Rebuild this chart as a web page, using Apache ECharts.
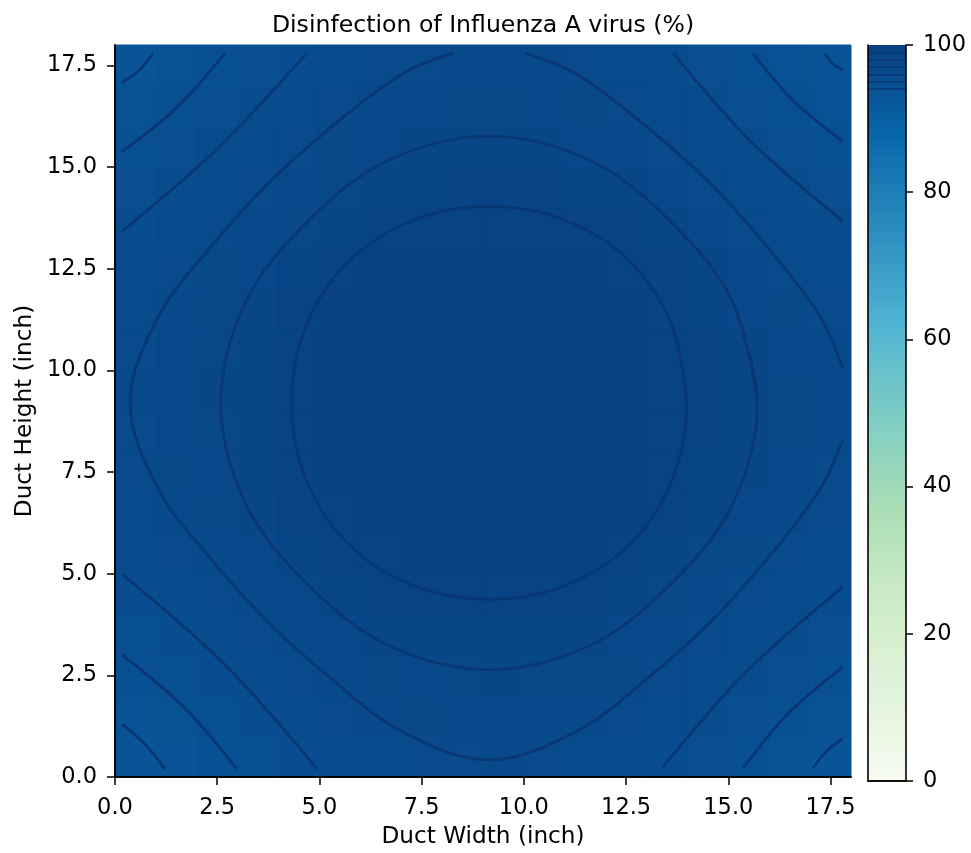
<!DOCTYPE html>
<html><head><meta charset="utf-8">
<script src="https://cdn.jsdelivr.net/npm/echarts@6/dist/echarts.min.js"></script>
<style>html,body{margin:0;padding:0;background:#fff}#chart{width:971px;height:853px}</style>
</head><body><div id="chart"></div>
<script>
// cell centres (inch)
const cellCentersX = [0.5,1.5,2.5,3.5,4.5,5.5,6.5,7.5,8.5,9.5,10.5,11.5,12.5,13.5,14.5,15.5,16.5,17.5];
const cellCentersY = [0.5,1.5,2.5,3.5,4.5,5.5,6.5,7.5,8.5,9.5,10.5,11.5,12.5,13.5,14.5,15.5,16.5,17.5];
// disinfection (%) estimated per cell; row k = cellCentersY[k] (bottom to top)
const disinfection = [
 [93.8,94.3,94.9,95.4,95.9,96.3,96.7,96.9,97.0,97.1,97.0,96.7,96.4,96.0,95.6,95.0,94.5,93.9],
 [94.3,94.8,95.4,95.9,96.4,96.8,97.1,97.3,97.5,97.5,97.4,97.2,96.9,96.5,96.1,95.6,95.0,94.5],
 [94.9,95.4,95.9,96.4,96.8,97.2,97.6,97.8,97.9,98.0,97.9,97.6,97.3,96.9,96.5,96.1,95.5,95.0],
 [95.4,95.9,96.4,96.8,97.2,97.7,98.1,98.4,98.5,98.5,98.4,98.2,97.8,97.4,96.9,96.5,96.1,95.6],
 [95.9,96.4,96.8,97.2,97.8,98.3,98.7,99.0,99.1,99.1,99.0,98.8,98.4,97.9,97.4,96.9,96.5,96.0],
 [96.3,96.8,97.2,97.7,98.3,98.8,99.2,99.4,99.5,99.5,99.4,99.3,99.0,98.4,97.9,97.3,96.9,96.5],
 [96.7,97.1,97.6,98.1,98.7,99.2,99.5,99.6,99.7,99.7,99.7,99.5,99.3,98.9,98.3,97.7,97.2,96.8],
 [96.9,97.3,97.8,98.4,99.0,99.4,99.6,99.7,99.8,99.8,99.8,99.7,99.5,99.1,98.5,98.0,97.5,97.0],
 [97.0,97.5,97.9,98.5,99.1,99.5,99.7,99.8,99.8,99.8,99.8,99.7,99.6,99.2,98.7,98.1,97.6,97.2],
 [97.1,97.5,98.0,98.5,99.1,99.5,99.7,99.8,99.8,99.8,99.8,99.7,99.6,99.2,98.7,98.1,97.6,97.2],
 [97.0,97.4,97.9,98.4,99.0,99.4,99.7,99.8,99.8,99.8,99.8,99.7,99.5,99.2,98.6,98.0,97.5,97.1],
 [96.7,97.2,97.6,98.2,98.8,99.3,99.5,99.7,99.7,99.7,99.7,99.6,99.4,99.0,98.4,97.8,97.3,96.9],
 [96.4,96.9,97.3,97.8,98.4,99.0,99.3,99.5,99.6,99.6,99.5,99.4,99.1,98.6,98.0,97.5,97.0,96.5],
 [96.0,96.5,96.9,97.4,97.9,98.4,98.9,99.1,99.2,99.2,99.2,99.0,98.6,98.1,97.5,97.0,96.6,96.2],
 [95.6,96.1,96.5,96.9,97.4,97.9,98.3,98.5,98.7,98.7,98.6,98.4,98.0,97.5,97.0,96.6,96.2,95.7],
 [95.0,95.6,96.1,96.5,96.9,97.3,97.7,98.0,98.1,98.1,98.0,97.8,97.5,97.0,96.6,96.2,95.7,95.2],
 [94.5,95.0,95.5,96.1,96.5,96.9,97.2,97.5,97.6,97.6,97.5,97.3,97.0,96.6,96.2,95.7,95.2,94.6],
 [93.9,94.5,95.0,95.6,96.0,96.5,96.8,97.0,97.2,97.2,97.1,96.9,96.5,96.2,95.7,95.2,94.6,94.1]
];
// contour levels (%)
const contourLevels = [94,95,96,97,98,99];
// contour polylines ([width, height] in inch)
const contour99 = [[13.98,9.2],[13.64,11.06],[12.61,12.66],[11.01,13.69],[9.15,14.03],[7.29,13.69],[5.69,12.66],[4.66,11.06],[4.32,9.2],[4.66,7.34],[5.69,5.74],[7.29,4.71],[9.15,4.37],[11.01,4.71],[12.61,5.74],[13.64,7.34],[13.98,9.2],[13.64,11.06]];
const contour98 = [[15.71,9.2],[15.11,11.67],[13.6,13.65],[11.62,15.16],[9.15,15.76],[6.68,15.16],[4.7,13.65],[3.19,11.67],[2.59,9.2],[3.19,6.73],[4.7,4.75],[6.68,3.24],[9.15,2.64],[11.62,3.24],[13.6,4.75],[15.11,6.73],[15.71,9.2],[15.11,11.67]];
const contour97TopRight = [[10.03,17.8],[11.31,17.27],[13.05,15.95],[14.55,14.6],[15.9,13.1],[17.22,11.36],[17.8,10.05]];
const contour97Main = [[17.8,8.29],[17.22,7.04],[15.9,5.3],[14.55,3.8],[13.05,2.45],[11.31,1.13],[9.15,0.42],[6.99,1.13],[5.25,2.45],[3.75,3.8],[2.4,5.3],[1.08,7.04],[0.37,9.2],[1.08,11.36],[2.4,13.1],[3.75,14.6],[5.25,15.95],[6.99,17.27],[8.27,17.8]];
const contour96TL = [[0.16,13.41],[2.5,15.45],[4.69,17.8]];
const contour95TL = [[0.16,15.37],[1.5,16.45],[2.69,17.8]];
const contour94TL = [[0.16,17.08],[0.6,17.38],[0.93,17.8]];
const contour96BL = [[0.17,4.99],[2.7,2.75],[4.94,0.2]];
const contour95BL = [[0.17,3.01],[1.68,1.72],[2.98,0.2]];
const contour94BL = [[0.17,1.3],[0.74,0.8],[1.22,0.2]];
const contour96TR = [[13.65,17.8],[15.58,15.6],[17.8,13.67]];
const contour95TR = [[15.6,17.8],[16.6,16.62],[17.8,15.63]];
const contour94TR = [[17.36,17.8],[17.54,17.55],[17.8,17.39]];
const contour96BR = [[13.38,0.22],[15.45,2.6],[17.8,4.67]];
const contour95BR = [[15.36,0.22],[16.48,1.58],[17.8,2.71]];
const contour94BR = [[17.07,0.22],[17.4,0.63],[17.8,0.95]];
// ticks
const xTicks = [0,2.5,5,7.5,10,12.5,15,17.5];
const yTicks = [0,2.5,5,7.5,10,12.5,15,17.5];
const cbarTicks = [0,20,40,60,80,100];
const axisRange = [0,18];
const gnbu = ['#f7fcf0','#e0f3db','#ccebc5','#a8ddb5','#7bccc4','#4eb3d3','#2b8cbe','#0868ac','#084081'];

const FONT = 'DejaVu Sans';
const heatData = [];
cellCentersY.forEach((y, j) => cellCentersX.forEach((x, i) => heatData.push([x, y, disinfection[j][i]])));
const halfW = (cellCentersX[1]-cellCentersX[0])/2, halfH = (cellCentersY[1]-cellCentersY[0])/2;

const contourSets = [contour99, contour98, contour97TopRight, contour97Main,
  contour96TL, contour95TL, contour94TL, contour96BL, contour95BL, contour94BL,
  contour96TR, contour95TR, contour94TR, contour96BR, contour95BR, contour94BR];
const lineColor = '#083773';

const chart = echarts.init(document.getElementById('chart'), null, {renderer:'canvas'});
const tickLabel = {fontFamily: FONT, fontSize: 22.5, color: '#000'};
const frameLine = {show: true, lineStyle: {color: '#000', width: 1.6}};
const option = {
  animation: false,
  backgroundColor: '#fff',
  title: {text: 'Disinfection of Influenza A virus (%)', left: 478, top: 9, textAlign: 'center',
    textStyle: {fontFamily: FONT, fontSize: 23.6, fontWeight: 'normal', color: '#000'}},
  grid: [
    {left: 115, top: 45, width: 736, height: 736},
    {left: 868, top: 45, width: 38, height: 736}
  ],
  visualMap: {type: 'continuous', show: false, min: cbarTicks[0], max: cbarTicks[cbarTicks.length-1],
    dimension: 2, seriesIndex: 0, inRange: {color: gnbu}},
  xAxis: [
    {gridIndex: 0, type: 'value', min: axisRange[0], max: axisRange[1], position: 'bottom', z: 10,
     name: 'Duct Width (inch)', nameLocation: 'middle', nameGap: 48,
     nameTextStyle: {fontFamily: FONT, fontSize: 23.2, color: '#000'},
     axisLine: frameLine, splitLine: {show: false},
     axisTick: {show: true, length: 8, inside: false, customValues: xTicks, lineStyle: {color: '#000', width: 1.5}},
     axisLabel: Object.assign({margin: 20, customValues: xTicks, formatter: v => v.toFixed(1)}, tickLabel)},
    {gridIndex: 0, type: 'value', min: axisRange[0], max: axisRange[1], position: 'top', z: 10,
     axisLine: frameLine, axisTick: {show: false}, axisLabel: {show: false}, splitLine: {show: false}},
    {gridIndex: 1, type: 'category', data: ['cb'], position: 'bottom', z: 10,
     axisLine: frameLine, axisTick: {show: false}, axisLabel: {show: false}, splitLine: {show: false}},
    {gridIndex: 1, type: 'category', data: ['cb'], position: 'top', z: 10,
     axisLine: frameLine, axisTick: {show: false}, axisLabel: {show: false}, splitLine: {show: false}}
  ],
  yAxis: [
    {gridIndex: 0, type: 'value', min: axisRange[0], max: axisRange[1], position: 'left', z: 10,
     name: 'Duct Height (inch)', nameLocation: 'middle', nameGap: 79, nameRotate: 90,
     nameTextStyle: {fontFamily: FONT, fontSize: 23.2, color: '#000'},
     axisLine: frameLine, splitLine: {show: false},
     axisTick: {show: true, length: 8, inside: false, customValues: yTicks, lineStyle: {color: '#000', width: 1.5}},
     axisLabel: Object.assign({margin: 18, customValues: yTicks, formatter: v => v.toFixed(1)}, tickLabel)},
    {gridIndex: 0, type: 'value', min: axisRange[0], max: axisRange[1], position: 'right', z: 10,
     axisLine: frameLine, axisTick: {show: false}, axisLabel: {show: false}, splitLine: {show: false}},
    {gridIndex: 1, type: 'value', min: cbarTicks[0], max: cbarTicks[cbarTicks.length-1], position: 'right', z: 10,
     axisLine: frameLine, splitLine: {show: false},
     axisTick: {show: true, length: 7, inside: false, customValues: cbarTicks, lineStyle: {color: '#000', width: 1.5}},
     axisLabel: Object.assign({margin: 17, customValues: cbarTicks}, tickLabel)},
    {gridIndex: 1, type: 'value', min: cbarTicks[0], max: cbarTicks[cbarTicks.length-1], position: 'left', z: 10,
     axisLine: frameLine, axisTick: {show: false}, axisLabel: {show: false}, splitLine: {show: false}}
  ],
  series: [
    {type: 'custom', xAxisIndex: 0, yAxisIndex: 0, data: heatData, silent: true, z: 1,
     encode: {x: 0, y: 1},
     renderItem: function (params, api) {
       const x = api.value(0), y = api.value(1);
       const p0 = api.coord([x - halfW, y - halfH]);
       const p1 = api.coord([x + halfW, y + halfH]);
       const c = api.visual('color');
       return {type: 'rect', shape: {x: p0[0], y: p1[1], width: p1[0]-p0[0], height: p0[1]-p1[1]},
               style: {fill: c, stroke: c, lineWidth: 1}};
     }}
  ].concat(contourSets.map(d => ({
     type: 'line', xAxisIndex: 0, yAxisIndex: 0, data: d, smooth: 0.35, showSymbol: false, symbol: 'none',
     silent: true, z: 3, lineStyle: {color: lineColor, width: 2.8}
  }))).concat([
    {type: 'bar', xAxisIndex: 2, yAxisIndex: 2, data: [cbarTicks[cbarTicks.length-1]], barWidth: '100%', silent: true, z: 2,
     itemStyle: {color: new echarts.graphic.LinearGradient(0, 1, 0, 0, gnbu.map((c, k) => ({offset: k/(gnbu.length-1), color: c})))},
     markLine: {silent: true, symbol: ['none','none'], label: {show: false}, animation: false,
       lineStyle: {color: lineColor, width: 2, type: 'solid', opacity: 0.8},
       data: contourLevels.map(v => ({yAxis: v}))}}
  ])
};
chart.setOption(option);
</script></body></html>
